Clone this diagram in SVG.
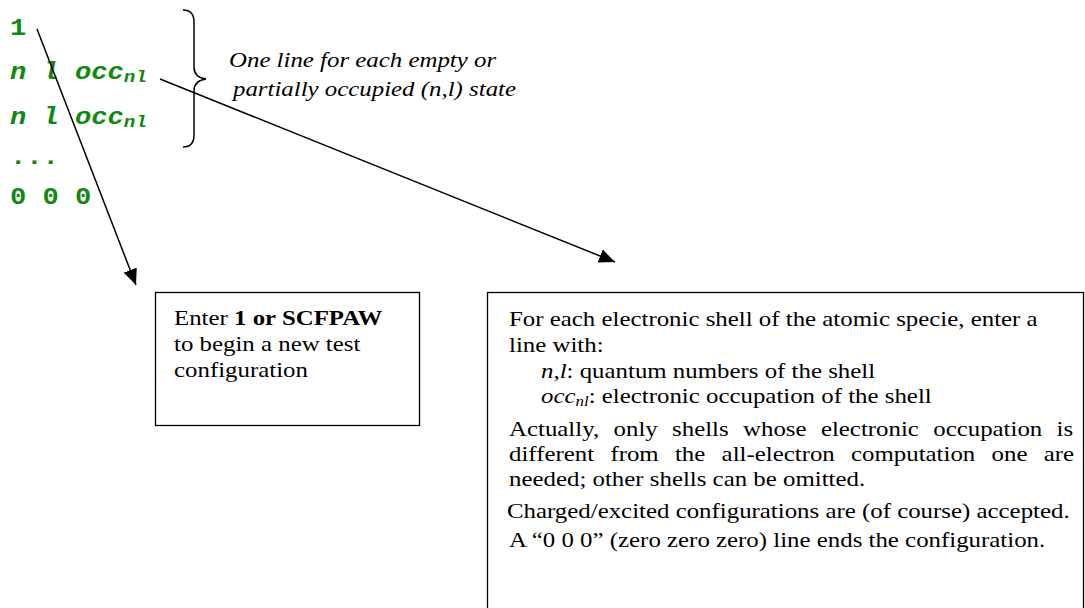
<svg xmlns="http://www.w3.org/2000/svg" width="1085" height="608" viewBox="0 0 1085 608">
<defs>
<marker id="ah" markerUnits="userSpaceOnUse" markerWidth="18" markerHeight="14" refX="16" refY="7" orient="auto">
<path d="M0,0 L16,7 L0,14 Z" fill="#000"/>
</marker>
<style>
.g{font-family:"Liberation Mono","Courier New",monospace;font-weight:bold;font-size:24px;fill:#118811}
.gi{font-style:italic}
.t{font-family:"Liberation Serif","Times New Roman",serif;font-size:22px;fill:#000}
.i{font-style:italic}
.b{font-weight:bold}
.box{fill:#fff;stroke:#000;stroke-width:1.3}
.ln{stroke:#000;stroke-width:1.5;fill:none}
</style>
</defs>
<rect width="1085" height="608" fill="#fff"/>

<g id="input">
<g transform="translate(10,35) scale(1.13,1)"><text class="g">1</text></g>
<g transform="translate(10,79) scale(1.13,1)"><text class="g gi">n l occ<tspan font-size="17" dy="3">nl</tspan></text></g>
<g transform="translate(10,124) scale(1.13,1)"><text class="g gi">n l occ<tspan font-size="17" dy="3">nl</tspan></text></g>
<g transform="translate(10,164) scale(1.13,1)"><text class="g">...</text></g>
<g transform="translate(10,204) scale(1.13,1)"><text class="g">0 0 0</text></g>
</g>

<g id="brace">
<path class="ln" d="M183,10 C191,10 194,14 194,22 L194,67 C194,74 198,78 206,79 C198,80 194,84 194,91 L194,135 C194,143 191,147 183,147"/>
<g transform="translate(229,67) scale(1.13,1)"><text class="t i">One line for each empty or</text></g>
<g transform="translate(233,96) scale(1.13,1)"><text class="t i">partially occupied (n,l) state</text></g>
</g>

<g id="box1">
<rect class="box" x="155.5" y="292.5" width="264" height="133"/>
<g transform="translate(174,325) scale(1.13,1)"><text class="t">Enter <tspan class="b">1 or SCFPAW</tspan></text></g>
<g transform="translate(174,351) scale(1.13,1)"><text class="t">to begin a new test</text></g>
<g transform="translate(174,377) scale(1.13,1)"><text class="t">configuration</text></g>
</g>

<g id="box2">
<rect class="box" x="487.5" y="292.5" width="596" height="330"/>
<g transform="translate(509,326) scale(1.13,1)"><text class="t">For each electronic shell of the atomic specie, enter a</text></g>
<g transform="translate(509,352) scale(1.13,1)"><text class="t">line with:</text></g>
<g transform="translate(541,378) scale(1.13,1)"><text class="t"><tspan class="i">n,l</tspan>: quantum numbers of the shell</text></g>
<g transform="translate(541,403) scale(1.13,1)"><text class="t"><tspan class="i">occ</tspan><tspan class="i" font-size="15" dy="3">nl</tspan><tspan dy="-3">: electronic occupation of the shell</tspan></text></g>
<g transform="translate(509,436) scale(1.13,1)"><text class="t" word-spacing="7.2">Actually, only shells whose electronic occupation is</text></g>
<g transform="translate(509,461) scale(1.13,1)"><text class="t" word-spacing="8.9">different from the all-electron computation one are</text></g>
<g transform="translate(509,486) scale(1.13,1)"><text class="t">needed; other shells can be omitted.</text></g>
<g transform="translate(507,518) scale(1.13,1)"><text class="t">Charged/excited configurations are (of course) accepted.</text></g>
<g transform="translate(509,547) scale(1.13,1)"><text class="t">A “0 0 0” (zero zero zero) line ends the configuration.</text></g>
</g>

<g id="connectors">
<line class="ln" x1="37" y1="29" x2="136" y2="285" marker-end="url(#ah)"/>
<line class="ln" x1="160" y1="79" x2="615" y2="262" marker-end="url(#ah)"/>
</g>
</svg>
